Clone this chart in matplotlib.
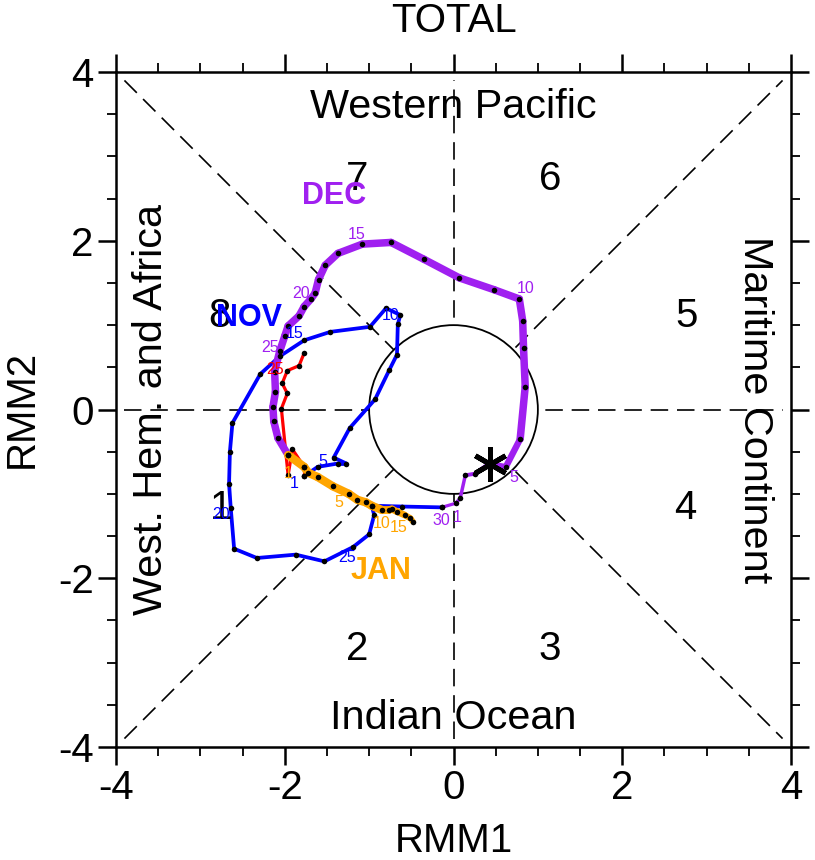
import matplotlib
matplotlib.use("Agg")
import matplotlib.pyplot as plt
import numpy as np

plt.rcParams['font.family'] = ['Liberation Sans', 'DejaVu Sans']

# RMM1 / RMM2
oct_x = [-1.77, -1.83, -1.97, -2.03, -1.97, -2.04, -1.96, -1.91, -1.77, -1.77]
oct_y = [0.67, 0.52, 0.46, 0.31, 0.19, 0.01, -0.78, -0.47, -0.68, -0.79]

nov_x = [-1.77, -1.61, -1.37, -1.27, -1.42, -1.23, -0.93, -0.76, -0.67, -0.66, -0.63,
         -0.80, -0.99, -1.46, -1.77, -2.06, -2.29, -2.62, -2.65, -2.66, -2.64, -2.60,
         -2.33, -1.87, -1.53, -1.19, -1.00, -0.94, -0.97, -0.61, -0.14]
nov_y = [-0.79, -0.68, -0.64, -0.64, -0.57, -0.22, 0.12, 0.47, 0.65, 1.01, 1.12,
         1.20, 0.98, 0.92, 0.82, 0.63, 0.42, -0.16, -0.50, -0.88, -1.17, -1.65,
         -1.76, -1.72, -1.80, -1.63, -1.48, -1.25, -1.14, -1.15, -1.16]

dec_x = [-0.14, 0.03, 0.08, 0.14, 0.26, 0.43, 0.62, 0.79, 0.85, 0.83, 0.82, 0.78, 0.48,
         0.07, -0.35, -0.74, -1.08, -1.37, -1.52, -1.60, -1.64, -1.69, -1.77, -1.83,
         -1.96, -2.00, -2.06, -2.12, -2.11, -2.14, -2.13, -2.08, -1.96]
dec_y = [-1.16, -1.11, -1.05, -0.78, -0.76, -0.64, -0.68, -0.35, 0.27, 0.73, 1.05, 1.31, 1.42,
         1.56, 1.78, 1.98, 1.96, 1.85, 1.71, 1.54, 1.38, 1.31, 1.22, 1.11,
         0.99, 0.87, 0.69, 0.45, 0.21, 0.03, -0.14, -0.34, -0.54]

jan_x = [-1.96, -1.77, -1.72, -1.61, -1.43, -1.24, -1.14, -1.04, -0.97, -0.85, -0.76,
         -0.73, -0.67, -0.58, -0.51, -0.48]
jan_y = [-0.54, -0.68, -0.75, -0.80, -0.91, -1.00, -1.07, -1.10, -1.14, -1.19, -1.19,
         -1.18, -1.21, -1.25, -1.29, -1.33]

star_x, star_y = 0.43, -0.64

RED = '#ff0000'
BLUE = '#0000ff'
PURPLE = '#a020f0'
ORANGE = '#ffa500'

fig = plt.figure(figsize=(8.15, 8.6), dpi=100)
ax = fig.add_axes([116 / 815, 113 / 860, 675 / 815, 675 / 860])
ax.set_xlim(-4, 4)
ax.set_ylim(-4, 4)

# phase diagram background
dash = (0, (10.5, 5.3))
ax.plot([-3.9, 3.9], [-3.9, 3.9], color='k', lw=1.2, ls=dash, zorder=1)
ax.plot([-3.9, 3.9], [3.9, -3.9], color='k', lw=1.2, ls=dash, zorder=1)
ax.plot([0, 0], [-3.9, 3.9], color='k', lw=1.2, ls=dash, zorder=1)
ax.plot([-3.9, 3.9], [0, 0], color='k', lw=1.2, ls=dash, zorder=1)
ax.add_patch(plt.Circle((0, 0), 1, facecolor='white', edgecolor='k', lw=1.3, zorder=2))


def draw_track(xs, ys, color, widths):
    for i in range(len(xs) - 1):
        ax.plot(xs[i:i + 2], ys[i:i + 2], color=color, lw=widths[i],
                solid_capstyle='round', zorder=3)


draw_track(oct_x, oct_y, RED, [2.3] * 9)
draw_track(nov_x, nov_y, BLUE, [2.7] * 30)
dec_w = [2.3, 2.5, 2.5, 2.8, 3.4, 4.0, 4.6] + [5.4] * 25
draw_track(dec_x, dec_y, PURPLE, dec_w)
jan_w = [6.0] * 9 + [5.6, 5.3, 5.0, 4.8, 4.5, 4.2]
draw_track(jan_x, jan_y, ORANGE, jan_w)

for xs, ys in [(oct_x, oct_y), (nov_x, nov_y), (dec_x, dec_y), (jan_x, jan_y)]:
    ax.plot(xs, ys, ls='none', marker='o', ms=4, color='k', mew=0, zorder=4)

ax.plot(star_x, star_y, marker=(6, 2, 0), ms=25, mew=3.6, color='k', zorder=5)

# day labels
day_labels = [
    ('25', -2.12, 0.48, RED), ('1', -1.89, -0.88, BLUE), ('5', -1.55, -0.62, BLUE),
    ('10', -0.74, 1.11, BLUE), ('15', -1.88, 0.90, BLUE), ('20', -2.76, -1.25, BLUE),
    ('25', -1.26, -1.75, BLUE), ('30', -0.15, -1.32, PURPLE), ('1', 0.04, -1.28, PURPLE),
    ('5', 0.72, -0.80, PURPLE), ('10', 0.85, 1.43, PURPLE), ('15', -1.15, 2.08, PURPLE),
    ('20', -1.81, 1.38, PURPLE), ('25', -2.18, 0.73, PURPLE), ('1', -1.96, -0.76, ORANGE),
    ('5', -1.36, -1.10, ORANGE), ('10', -0.85, -1.35, ORANGE), ('15', -0.65, -1.40, ORANGE),
]
for txt, x, y, c in day_labels:
    ax.text(x, y, txt, color=c, fontsize=11.5, ha='center', va='center', zorder=6)

# month labels
ax.text(-1.42, 2.53, 'DEC', color=PURPLE, fontsize=22, fontweight='bold', ha='center', va='center', zorder=6)
ax.text(-2.42, 1.09, 'NOV', color=BLUE, fontsize=22, fontweight='bold', ha='center', va='center', zorder=6)
ax.text(-0.865, -1.91, 'JAN', color=ORANGE, fontsize=22, fontweight='bold', ha='center', va='center', zorder=6)

# phase numbers and regions
phases = [('1', -2.75, -1.17), ('2', -1.14, -2.84), ('3', 1.14, -2.84), ('4', 2.75, -1.17),
          ('5', 2.76, 1.11), ('6', 1.15, 2.73), ('7', -1.14, 2.73), ('8', -2.77, 1.11)]
for txt, x, y in phases:
    ax.text(x, y, txt, fontsize=29, ha='center', va='center', zorder=5)

ax.text(0, 3.58, 'Western Pacific', fontsize=29.8, ha='center', va='center')
ax.text(0, -3.66, 'Indian Ocean', fontsize=29.8, ha='center', va='center')
ax.text(-3.59, 0, 'West. Hem. and Africa', fontsize=29.8, rotation=90, ha='center', va='center')
ax.text(3.57, 0, 'Maritime Continent', fontsize=29.8, rotation=-90, ha='center', va='center')

# axes and ticks
major = np.arange(-4, 5, 2)
minor = np.arange(-4, 4.01, 0.5)
for s in ax.spines.values():
    s.set_linewidth(1.8)
ax.set_xticks(major)
ax.set_yticks(major)
ax.set_xticklabels(['-4', '-2', '0', '2', '4'])
ax.set_yticklabels(['-4', '-2', '0', '2', '4'])
ax.set_xticks(minor, minor=True)
ax.set_yticks(minor, minor=True)
ax.tick_params(which='major', direction='out', length=13, width=1.8, labelsize=29,
               top=True, right=True, pad=3)
ax.tick_params(which='minor', direction='out', length=6.5, width=1.3, top=True, right=True)

fig.text(453.5 / 815, 1 - 841 / 860, 'RMM1', fontsize=29, ha='center', va='center')
fig.text(22 / 815, 1 - 409 / 860, 'RMM2', fontsize=29, rotation=90, ha='center', va='center')
fig.text(453.5 / 815, 1 - 21 / 860, 'TOTAL', fontsize=29, ha='center', va='center')

fig.savefig('out.png', dpi=100)
